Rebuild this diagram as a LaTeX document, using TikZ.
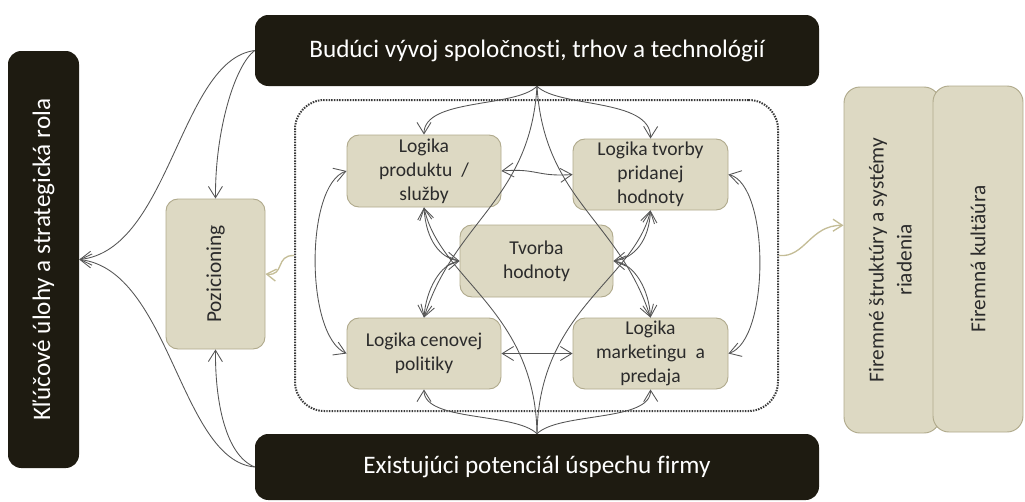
\documentclass[tikz,border=0pt]{standalone}
\usepackage{fontspec}
\setmainfont{Carlito}[Ligatures={NoCommon}]
\usetikzlibrary{arrows.meta}
\definecolor{darkc}{HTML}{1E1B11}
\definecolor{beigec}{HTML}{DDD9C3}
\definecolor{edgec}{HTML}{B0AA8C}
\definecolor{txtc}{HTML}{2B2B2B}
\definecolor{linec}{HTML}{555555}
\definecolor{lightc}{HTML}{C4BD97}
\definecolor{dotc}{HTML}{3A3A3A}
\begin{document}
\begin{tikzpicture}[x=0.75pt,y=-0.75pt,
  darkbox/.style={fill=darkc, draw=none, text=white, rounded corners=10pt, inner sep=0pt, font=\fontsize{18.9}{22}\selectfont},
  beigebox/.style={fill=beigec, draw=edgec, line width=0.7pt, text=txtc, rounded corners=9pt, inner sep=0pt, align=center, font=\fontsize{14.7}{18}\selectfont},
  framebox/.style={draw=dotc, line width=1.5pt, dash pattern=on 1.1pt off 0.9pt, rounded corners=22pt, inner sep=0pt},
  conn/.style={draw=linec, line width=0.65pt, -{Straight Barb[length=8.5pt,width=10.5pt]}},
  conn2/.style={draw=linec, line width=0.65pt, {Straight Barb[length=8.5pt,width=10.5pt]}-{Straight Barb[length=8.5pt,width=10.5pt]}},
  soft/.style={draw=lightc, line width=1pt, -{Straight Barb[length=7pt,width=9pt]}},
]
\useasboundingbox (0,0) rectangle (1025,501);
% dark boxes
\node[darkbox, minimum width=53.25pt, minimum height=312.75pt] (lbox) at (43.5,259.5) {\rotatebox{90}{Kľúčové úlohy a strategická rola}};
\node[darkbox, minimum width=423pt, minimum height=53.25pt] (top) at (537,50.5) {Budúci vývoj spoločnosti, trhov a technológií};
\node[darkbox, minimum width=423pt, minimum height=49.5pt] (bot) at (537,467) {Existujúci potenciál úspechu firmy};
% frame
\node[framebox, minimum width=362.25pt, minimum height=233.25pt] (frame) at (536.5,255.5) {};
% beige boxes
\node[beigebox, minimum width=74.25pt, minimum height=112.5pt, font=\fontsize{16}{19}\selectfont] (poz) at (215.5,274) {\rotatebox{90}{Pozicioning}};
\node[beigebox, minimum width=115.5pt, minimum height=54pt] (prod) at (424,171) {Logika\\produktu~ /\\služby};
\node[beigebox, minimum width=116.25pt, minimum height=53.25pt] (tvorby) at (650.5,174.5) {Logika tvorby\\pridanej\\hodnoty};
\node[beigebox, minimum width=114.75pt, minimum height=54pt] (tvorba) at (536.5,261) {Tvorba\\hodnoty};
\node[beigebox, minimum width=115.5pt, minimum height=53.25pt] (cen) at (424,353.5) {Logika cenovej\\politiky};
\node[beigebox, minimum width=116.25pt, minimum height=53.25pt] (mark) at (650.5,353.5) {Logika\\marketingu~ a\\predaja};
\node[beigebox, rounded corners=12pt, minimum width=72pt, minimum height=259.5pt, font=\fontsize{16}{21}\selectfont] (fir1) at (892,260) {\rotatebox{90}{\begin{tabular}{@{}c@{}}Firemné štruktúry a systémy\\riadenia\end{tabular}}};
\node[beigebox, rounded corners=12pt, minimum width=67.5pt, minimum height=259.5pt, font=\fontsize{16}{21}\selectfont] (fir2) at (978,259) {\rotatebox{90}{Firemná kultäúra}};
% connectors from top
\draw[conn] (top.south) .. controls (515,108) and (424,98) .. (prod.north);
\draw[conn] (top.south) .. controls (559,108) and (651,98) .. (tvorby.north);
\draw[conn] (top.south) .. controls (530,200) and (455,220) .. (cen.north);
\draw[conn] (top.south) .. controls (544,200) and (619,220) .. (mark.north);
% connectors from bottom
\draw[conn] (bot.north) .. controls (515,412) and (424,422) .. (cen.south);
\draw[conn] (bot.north) .. controls (559,412) and (651,422) .. (mark.south);
\draw[conn] (bot.north) .. controls (535,310) and (440,280) .. (prod.south);
\draw[conn] (bot.north) .. controls (539,310) and (634,280) .. (tvorby.south);
% central
\draw[conn2] (prod.south) .. controls (426,240) and (440,258) .. (tvorba.west);
\draw[conn2] (cen.north) .. controls (426,290) and (440,264) .. (tvorba.west);
\draw[conn2] (tvorby.south) .. controls (649,240) and (635,258) .. (tvorba.east);
\draw[conn2] (mark.north) .. controls (649,290) and (635,264) .. (tvorba.east);
\draw[conn2] (prod.east) .. controls (537,168) and (537,177) .. (tvorby.west);
\draw[conn2] (cen.east) -- (mark.west);
\draw[conn2] (prod.west) .. controls (305,185) and (305,335) .. (cen.west);
\draw[conn2] (tvorby.east) .. controls (770,185) and (770,340) .. (mark.east);
% outer left
\draw[conn] (top.west) .. controls (235,65) and (215,130) .. (poz.north);
\draw[conn] (top.west) .. controls (180,60) and (170,250) .. (lbox.east);
\draw[conn] (bot.west) .. controls (225,455) and (215,400) .. (poz.south);
\draw[conn] (bot.west) .. controls (180,460) and (170,270) .. (lbox.east);
% soft arrows
\draw[soft] (frame.west) .. controls (275,255) and (285,276) .. (poz.east);
\draw[soft] (frame.east) .. controls (805,258) and (810,225) .. ([yshift=26pt]fir1.west);
\end{tikzpicture}
\end{document}
